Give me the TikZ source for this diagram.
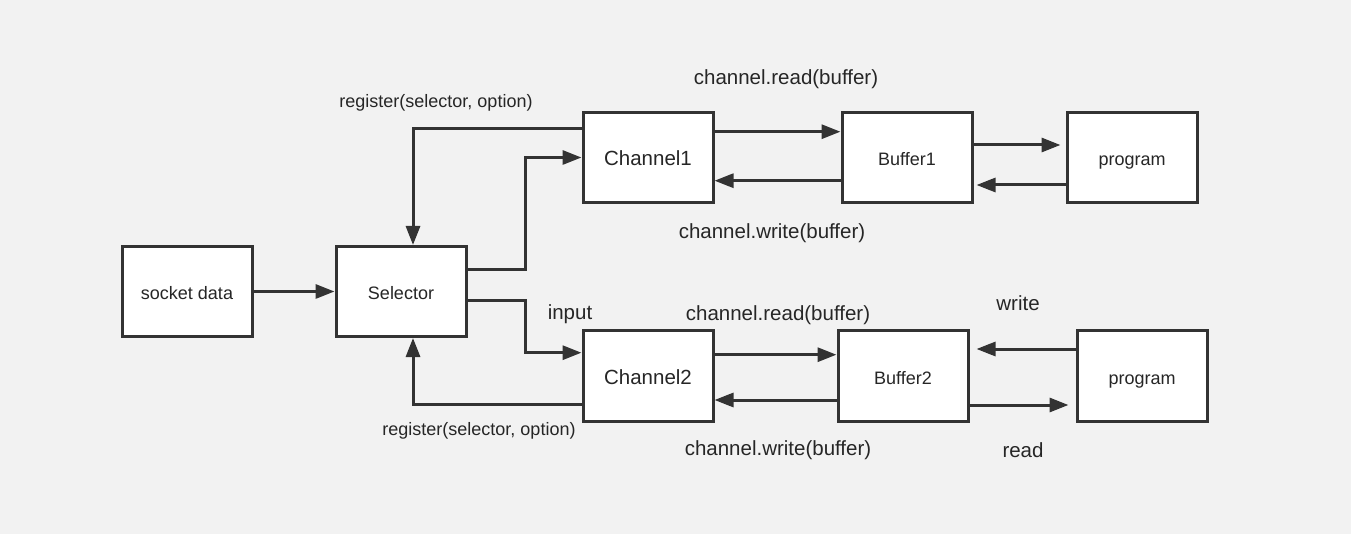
\documentclass[tikz,border=0pt]{standalone}
\usepackage{fontspec}
\setmainfont{Liberation Sans}
\usetikzlibrary{arrows.meta}
\definecolor{bg}{HTML}{F2F2F2}
\definecolor{ln}{HTML}{333333}
\definecolor{tx}{HTML}{262626}
\tikzset{
  box/.style={draw=ln, fill=white, line width=3pt, minimum width=130pt, minimum height=90pt, inner sep=0pt, text height=16pt, text depth=0pt, text=tx, font=\fontsize{18}{20}\selectfont},
  bigbox/.style={box, font=\fontsize{20.5}{24}\selectfont},
  conn/.style={draw=ln, line width=3pt, -{Triangle[length=19pt,width=14pt]}},
  lbl/.style={text=tx, inner sep=0pt, font=\fontsize{18}{20}\selectfont},
  biglbl/.style={text=tx, inner sep=0pt, font=\fontsize{20.5}{24}\selectfont}
}
\begin{document}
\begin{tikzpicture}[x=1pt,y=-1pt]
\fill[bg] (0,0) rectangle (1351,534);
\useasboundingbox (0,0) rectangle (1351,534);
% boxes
\node[box] (sock) at (187,291.5) {socket data};
\node[box] (sel) at (401,291.5) {Selector};
\node[bigbox] (ch1) at (648,157.5) {Channel1};
\node[box] (buf1) at (907,157.5) {Buffer1};
\node[box] (prog1) at (1132,157.5) {program};
\node[bigbox] (ch2) at (648,376) {Channel2};
\node[box] (buf2) at (903,376) {Buffer2};
\node[box] (prog2) at (1142,376) {program};
% connectors
\draw[conn] (sock) -- (sel);
\draw[conn] ([yshift=28.5pt]ch1.west) -| ([xshift=12pt]sel.north);
\draw[conn] ([yshift=22pt]sel.east) -- ++(58,0) |- (ch1.west);
\draw[conn] ([yshift=-9.5pt]sel.east) -- ++(58,0) |- ([yshift=23.3pt]ch2.west);
\draw[conn] ([yshift=-28pt]ch2.west) -| ([xshift=12pt]sel.south);
\draw[conn] ([yshift=25.8pt]ch1.east) -- ([yshift=25.8pt]buf1.west);
\draw[conn] ([yshift=-23.2pt]buf1.west) -- ([yshift=-23.2pt]ch1.east);
\draw[conn, shorten >=5pt] ([yshift=12.5pt]buf1.east) -- ([yshift=12.5pt]prog1.west);
\draw[conn, shorten >=3pt] ([yshift=-27.5pt]prog1.west) -- ([yshift=-27.5pt]buf1.east);
\draw[conn] ([yshift=21.3pt]ch2.east) -- ([yshift=21.3pt]buf2.west);
\draw[conn] ([yshift=-24pt]buf2.west) -- ([yshift=-24pt]ch2.east);
\draw[conn, shorten >=7pt] ([yshift=27pt]prog2.west) -- ([yshift=27pt]buf2.east);
\draw[conn, shorten >=7pt] ([yshift=-29pt]buf2.east) -- ([yshift=-29pt]prog2.west);
% labels
\node[lbl] (l1) at (436,103) {register(selector, option)};
\node[lbl] (l2) at (479,431) {register(selector, option)};
\node[biglbl] (l3) at (786,79) {channel.read(buffer)};
\node[biglbl] (l4) at (772,233) {channel.write(buffer)};
\node[biglbl] (l5) at (570,314) {input};
\node[biglbl] (l6) at (778,315) {channel.read(buffer)};
\node[biglbl] (l7) at (1018,303) {write};
\node[biglbl] (l8) at (778,450) {channel.write(buffer)};
\node[biglbl] (l9) at (1023,450) {read};
\end{tikzpicture}
\end{document}
